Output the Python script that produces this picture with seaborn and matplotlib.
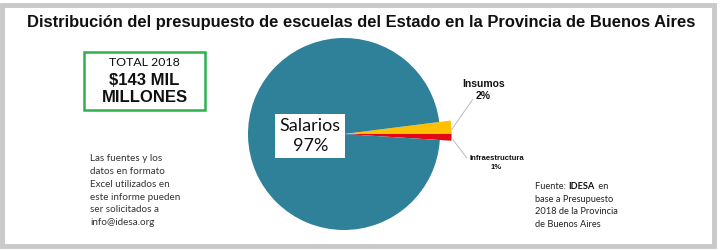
import matplotlib
matplotlib.use("Agg")
import matplotlib.pyplot as plt
import seaborn as sns
from matplotlib.patches import Rectangle

# ---- data ----
categories = ["Infraestructura", "Insumos", "Salarios"]
values = [1, 2, 97]
pct_labels = ["1%", "2%", "97%"]
title = "Distribución del presupuesto de escuelas del Estado en la Provincia de Buenos Aires"
total_lines = ["TOTAL 2018", "$143 MIL", "MILLONES"]
note_left = ("Las fuentes y los\ndatos en formato\nExcel utilizados en\n"
             "este informe pueden\nser solicitados a\ninfo@idesa.org")

sns.set_theme(style="white")
plt.rcParams['font.family'] = ['Liberation Sans', 'DejaVu Sans']

colors = ["#e30613", "#ffc000", "#2f8099"]

W, H = 720, 250
fig = plt.figure(figsize=(7.2, 2.5), dpi=100)
fig.patch.set_facecolor("white")

# outer gray frame
fig.patches.append(Rectangle((2 / W, 4 / H), (W - 8) / W, (H - 9) / H,
                             transform=fig.transFigure, fill=False,
                             edgecolor="#c9c9c9", linewidth=3.5))

# title
fig.text(361 / W, 1 - 22 / H, title, ha="center", va="center", fontsize=11.9,
         fontweight="bold", color="#111111")

# pie axes: center (344,134), radius 96 px
r = 96
cx, cy = 344, 134
lim = 1.25
size = 2 * r * lim
ax = fig.add_axes([(cx - size / 2) / W, (H - cy - size / 2) / H, size / W, size / H])
wedges, _ = ax.pie(values, colors=colors, startangle=-3.6, counterclock=True,
                   radius=1.0, wedgeprops=dict(linewidth=0))
wedges[0].set_radius(1.12)
wedges[1].set_radius(1.12)
ax.set_xlim(-lim, lim)
ax.set_ylim(-lim, lim)
ax.set_aspect("equal")
ax.axis("off")

# Salarios label box
ax.text(-0.35, -0.02, f"{categories[2]}\n{pct_labels[2]}", ha="center", va="center",
        fontsize=13, family=['Lato', 'DejaVu Sans'], color="#111111", linespacing=1.25,
        bbox=dict(boxstyle="square,pad=0.25", facecolor="white", edgecolor="none"))

# Insumos label with leader
ax.plot([1.125, 1.34], [0.05, 0.36], color="#b0b0b0", lw=0.6, clip_on=False)
ax.text(1.45, 0.46, f"{categories[1]}\n{pct_labels[1]}", ha="center", va="center",
        fontsize=7.5, fontweight="heavy", color="#111111", linespacing=1.2)

# Infraestructura label with leader
ax.plot([1.135, 1.28], [-0.06, -0.25], color="#b0b0b0", lw=0.6, clip_on=False)
ax.text(1.59, -0.30, f"{categories[0]}\n{pct_labels[0]}", ha="center", va="center",
        fontsize=5.6, fontweight="bold", color="#111111", linespacing=1.35)

# TOTAL box
fig.patches.append(Rectangle((84 / W, 1 - 110 / H), 121 / W, 58 / H,
                             transform=fig.transFigure, fill=False,
                             edgecolor="#2eb04f", linewidth=1.8))
fig.text(144 / W, 1 - 63 / H, total_lines[0], ha="center", va="center",
         fontsize=8.9, family=['Lato', 'DejaVu Sans'], color="#111111")
fig.text(144 / W, 1 - 80 / H, total_lines[1], ha="center", va="center",
         fontsize=12, fontweight="bold", color="#111111")
fig.text(145 / W, 1 - 98 / H, total_lines[2], ha="center", va="center",
         fontsize=12, fontweight="bold", color="#111111")

# left note
fig.text(90 / W, 1 - 154 / H, note_left, ha="left", va="top", fontsize=7.1,
         family=['Lato', 'DejaVu Sans'], color="#333333", linespacing=1.55)

# right source note
fs = 6.7
fig.text(535 / W, 1 - 182 / H, "Fuente: ", ha="left", va="top", fontsize=fs,
         family=['Lato', 'DejaVu Sans'], color="#222222")
fig.text(568 / W, 1 - 182 / H, "IDESA", ha="left", va="top", fontsize=fs,
         fontweight="bold", family=['Lato', 'DejaVu Sans'], color="#111111")
fig.text(596 / W, 1 - 182 / H, " en", ha="left", va="top", fontsize=fs,
         family=['Lato', 'DejaVu Sans'], color="#222222")
fig.text(535 / W, 1 - 195 / H, "base a Presupuesto\n2018 de la Provincia\nde Buenos Aires",
         ha="left", va="top", fontsize=fs, family=['Lato', 'DejaVu Sans'],
         color="#222222", linespacing=1.5)

fig.savefig("out.png", dpi=100, facecolor="white")
